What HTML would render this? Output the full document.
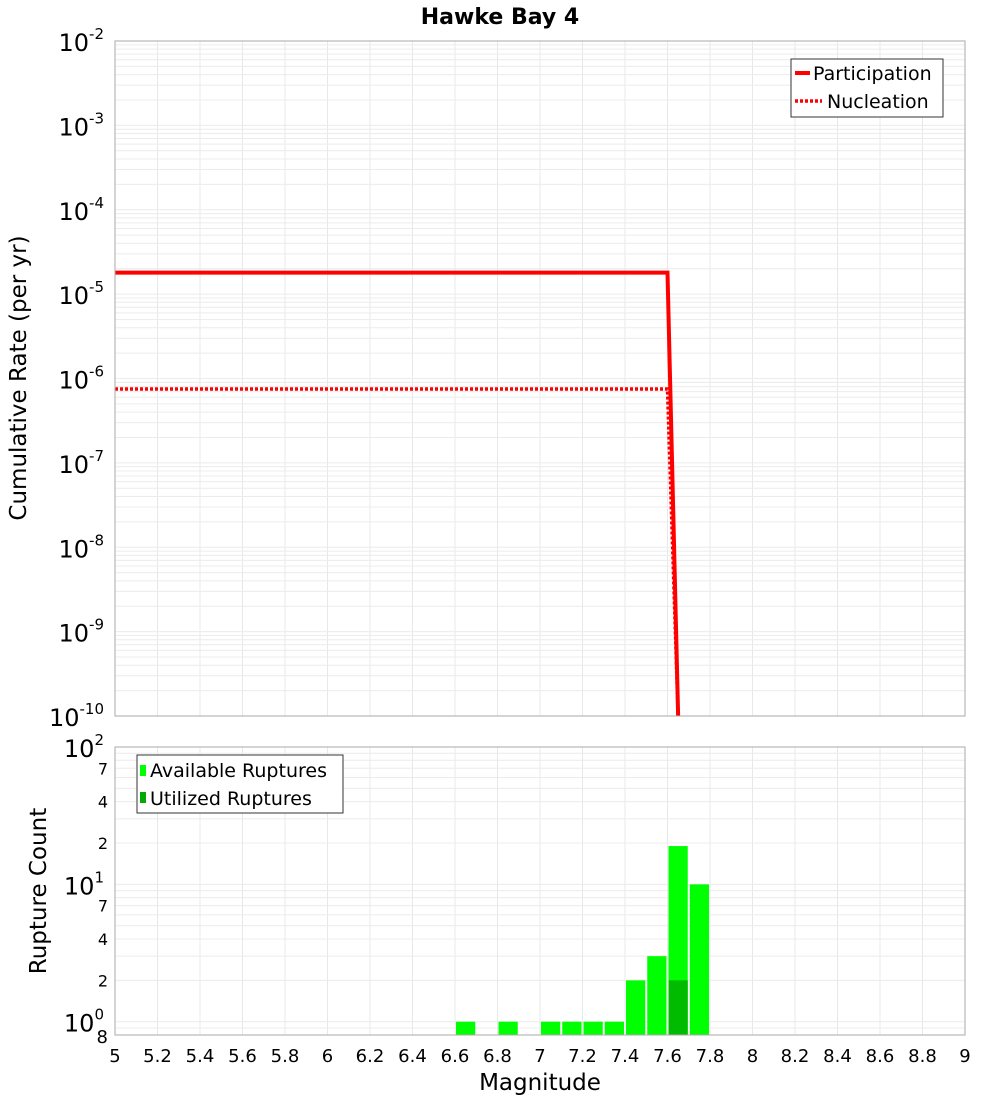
<!DOCTYPE html>
<html><head><meta charset="utf-8"><style>
body{margin:0;background:#fff;font-family:"Liberation Sans","DejaVu Sans",sans-serif}
svg text{font-family:"DejaVu Sans","Liberation Sans",sans-serif}
</style></head><body>
<svg id="c" width="1000" height="1100" xmlns="http://www.w3.org/2000/svg">
<rect width="1000" height="1100" fill="#fff"/>
<text x="500" y="24" text-anchor="middle" font-size="22" font-weight="bold">Hawke Bay 4</text>
<g id="top"></g>
<g id="bot"></g>
<text transform="translate(26,378) rotate(-90)" text-anchor="middle" font-size="23">Cumulative Rate (per yr)</text>
<text transform="translate(46,891) rotate(-90)" text-anchor="middle" font-size="23">Rupture Count</text>
<text x="540" y="1090" text-anchor="middle" font-size="23">Magnitude</text>
</svg>
<script>
const partMags=[5,7.6,7.65];
const partRates=[1.8e-5,1.8e-5,1e-10];
const nuclMags=[5,7.6,7.65];
const nuclRates=[7.5e-7,7.5e-7,1e-10];
const binCenters=[6.65,6.85,7.05,7.15,7.25,7.35,7.45,7.55,7.65,7.75];
const availCounts=[1,1,1,1,1,1,2,3,19,10];
const usedCounts=[0,0,0,0,0,0,0,0,2,0];
const xTicks=[5,5.2,5.4,5.6,5.8,6,6.2,6.4,6.6,6.8,7,7.2,7.4,7.6,7.8,8,8.2,8.4,8.6,8.8,9];
const topExps=[-2,-3,-4,-5,-6,-7,-8,-9,-10];
const botMinor=[2,4,7];

const NS="http://www.w3.org/2000/svg";
const X0=115,X1=965;
function sx(m){return X0+(m-5)/4*(X1-X0);}
const T0=41,T1=716;
function ty(v){return T0+(-2-Math.log10(v))/8*(T1-T0);}
const B0=747,B1=1035,BMIN=0.8;
function by(v){return B0+(2-Math.log10(v))/(2-Math.log10(BMIN))*(B1-B0);}
function mk(p,tag,a,txt){const e=document.createElementNS(NS,tag);for(const k in a)e.setAttribute(k,a[k]);if(txt!==undefined)e.textContent=txt;p.appendChild(e);return e;}
const topG=document.getElementById('top'),botG=document.getElementById('bot');
for(const m of xTicks){
 let g=mk(topG,'line',{x1:sx(m),x2:sx(m),y1:T0,y2:T1,stroke:'#e8e8e8'});
 
 
 g=mk(botG,'line',{x1:sx(m),x2:sx(m),y1:B0,y2:B1,stroke:'#e8e8e8'});
 
 
}
for(let e=-10;e<-2;e++)for(let k=1;k<10;k++){
 const y=ty(k*Math.pow(10,e));
 const g=mk(topG,'line',{x1:X0,x2:X1,y1:y,y2:y,stroke:'#ececec'});
 
 
}
for(let e=-1;e<2;e++)for(let k=1;k<10;k++){
 const v=k*Math.pow(10,e); if(v<BMIN)continue;
 const y=by(v);
 const g=mk(botG,'line',{x1:X0,x2:X1,y1:y,y2:y,stroke:'#ececec'});
 
 
}
for(const e of topExps){
 const y=ty(Math.pow(10,e));
 const t=mk(topG,'text',{x:104,y:y+10,'text-anchor':'end','font-size':24});
 
 
 t.textContent='10';
 mk(t,'tspan',{dy:-12,'font-size':15},String(e));
}
function path(ms,vs){return ms.map((m,i)=>(i?'L':'M')+sx(m)+','+Math.min(ty(vs[i]),T1)).join(' ');}
let p=mk(topG,'path',{d:path(nuclMags,nuclRates),fill:'none',stroke:'#f00','stroke-width':3.5,'stroke-dasharray':'3,2'});


p=mk(topG,'path',{d:path(partMags,partRates),fill:'none',stroke:'#f00','stroke-width':4});


let fr=mk(topG,'rect',{x:X0,y:T0,width:X1-X0,height:T1-T0,fill:'none',stroke:'#aaa'});


const lg=mk(topG,'g',{});


mk(lg,'rect',{x:791,y:59,width:152,height:58,fill:'#fff',stroke:'#333'});
mk(lg,'line',{x1:795,x2:810,y1:73,y2:73,stroke:'#f00','stroke-width':4});
mk(lg,'text',{x:813,y:80,'font-size':19},'Participation');
mk(lg,'line',{x1:795,x2:822,y1:101,y2:101,stroke:'#f00','stroke-width':3.5,'stroke-dasharray':'3,2'});
mk(lg,'text',{x:827,y:108,'font-size':19},'Nucleation');
const bw=sx(0.1+5)-sx(5)-2;
binCenters.forEach((c,i)=>{
 const x=sx(c)-bw/2;
 let r=mk(botG,'rect',{x:x,y:by(availCounts[i]),width:bw,height:B1-by(availCounts[i]),fill:'#00ff00'});
 
 
 if(usedCounts[i]>0){
  r=mk(botG,'rect',{x:x,y:by(usedCounts[i]),width:bw,height:B1-by(usedCounts[i]),fill:'#00bb00'});
  
  
 }
});
fr=mk(botG,'rect',{x:X0,y:B0,width:X1-X0,height:B1-B0,fill:'none',stroke:'#aaa'});


for(let e=0;e<=2;e++){
 const y=by(Math.pow(10,e));
 const t=mk(botG,'text',{x:104,y:y+10,'text-anchor':'end','font-size':24});
 
 
 t.textContent='10';
 mk(t,'tspan',{dy:-12,'font-size':15},String(e));
 if(e<2)for(const k of botMinor){
  const t2=mk(botG,'text',{x:108,y:by(k*Math.pow(10,e))+6,'text-anchor':'end','font-size':16},String(k));
  
  
 }
}
let t8=mk(botG,'text',{x:108,y:by(BMIN)+8,'text-anchor':'end','font-size':18},'8');


for(const m of xTicks){
 const t=mk(botG,'text',{x:sx(m),y:1062,'text-anchor':'middle','font-size':18},String(m));
 
 
}
const lb=mk(botG,'g',{});


mk(lb,'rect',{x:137,y:755,width:206,height:58,fill:'#fff',stroke:'#333'});
mk(lb,'rect',{x:140,y:765,width:6,height:11,fill:'#00ff00'});
mk(lb,'text',{x:150,y:777,'font-size':19},'Available Ruptures');
mk(lb,'rect',{x:140,y:792,width:6,height:11,fill:'#00aa00'});
mk(lb,'text',{x:150,y:805,'font-size':19},'Utilized Ruptures');
</script>
</body></html>
